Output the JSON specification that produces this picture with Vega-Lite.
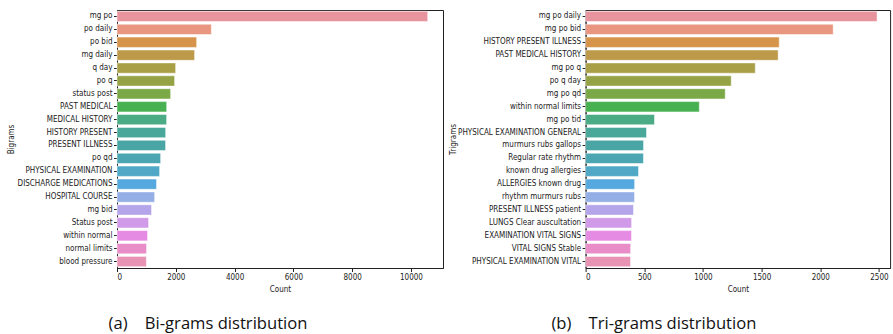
{
  "$schema": "https://vega.github.io/schema/vega-lite/v6.json",
  "background": "white",
  "padding": {"left": 7, "top": 9, "right": 2, "bottom": 2},
  "bounds": "flush",
  "spacing": 142.6,
  "config": {
    "view": {"stroke": "#222", "strokeWidth": 1},
    "axis": {
      "labelFont": "DejaVu Sans Condensed",
      "titleFont": "DejaVu Sans Condensed",
      "labelFontSize": 8,
      "titleFontSize": 8,
      "labelColor": "#222",
      "titleColor": "#222",
      "titleFontWeight": "normal",
      "domainColor": "#222",
      "tickColor": "#222",
      "tickSize": 3.5,
      "labelPadding": 1.5,
      "grid": false
    },
    "title": {"font": "Open Sans", "fontSize": 16.6, "fontWeight": "normal", "color": "#111"}
  },
  "datasets": {
    "bi": [
      {"rank": 1, "gram": "mg po", "count": 10570},
      {"rank": 2, "gram": "po daily", "count": 3210},
      {"rank": 3, "gram": "po bid", "count": 2710},
      {"rank": 4, "gram": "mg daily", "count": 2640},
      {"rank": 5, "gram": "q day", "count": 1995},
      {"rank": 6, "gram": "po q", "count": 1960},
      {"rank": 7, "gram": "status post", "count": 1825},
      {"rank": 8, "gram": "PAST MEDICAL", "count": 1690},
      {"rank": 9, "gram": "MEDICAL HISTORY", "count": 1688},
      {"rank": 10, "gram": "HISTORY PRESENT", "count": 1655},
      {"rank": 11, "gram": "PRESENT ILLNESS", "count": 1653},
      {"rank": 12, "gram": "po qd", "count": 1485},
      {"rank": 13, "gram": "PHYSICAL EXAMINATION", "count": 1450},
      {"rank": 14, "gram": "DISCHARGE MEDICATIONS", "count": 1345},
      {"rank": 15, "gram": "HOSPITAL COURSE", "count": 1280},
      {"rank": 16, "gram": "mg bid", "count": 1175},
      {"rank": 17, "gram": "Status post", "count": 1075},
      {"rank": 18, "gram": "within normal", "count": 1040},
      {"rank": 19, "gram": "normal limits", "count": 1005},
      {"rank": 20, "gram": "blood pressure", "count": 1000}
    ],
    "tri": [
      {"rank": 1, "gram": "mg po daily", "count": 2484},
      {"rank": 2, "gram": "mg po bid", "count": 2110},
      {"rank": 3, "gram": "HISTORY PRESENT ILLNESS", "count": 1650},
      {"rank": 4, "gram": "PAST MEDICAL HISTORY", "count": 1641},
      {"rank": 5, "gram": "mg po q", "count": 1446},
      {"rank": 6, "gram": "po q day", "count": 1241},
      {"rank": 7, "gram": "mg po qd", "count": 1190},
      {"rank": 8, "gram": "within normal limits", "count": 969},
      {"rank": 9, "gram": "mg po tid", "count": 587},
      {"rank": 10, "gram": "PHYSICAL EXAMINATION GENERAL", "count": 519},
      {"rank": 11, "gram": "murmurs rubs gallops", "count": 494},
      {"rank": 12, "gram": "Regular rate rhythm", "count": 493},
      {"rank": 13, "gram": "known drug allergies", "count": 451},
      {"rank": 14, "gram": "ALLERGIES known drug", "count": 418},
      {"rank": 15, "gram": "rhythm murmurs rubs", "count": 417},
      {"rank": 16, "gram": "PRESENT ILLNESS patient", "count": 408},
      {"rank": 17, "gram": "LUNGS Clear auscultation", "count": 392},
      {"rank": 18, "gram": "EXAMINATION VITAL SIGNS", "count": 391},
      {"rank": 19, "gram": "VITAL SIGNS Stable", "count": 384},
      {"rank": 20, "gram": "PHYSICAL EXAMINATION VITAL", "count": 383}
    ]
  },
  "hconcat": [
    {
      "data": {"name": "bi"},
      "width": 326,
      "height": 258,
      "title": {"text": "(a)\u00a0\u00a0\u00a0\u00a0Bi-grams distribution", "orient": "bottom", "anchor": "middle", "frame": "group", "dx": -72, "offset": 23},
      "mark": {"type": "bar", "stroke": "white", "strokeWidth": 0.5},
      "encoding": {
        "y": {"field": "gram", "type": "nominal", "sort": {"field": "rank", "order": "ascending"}, "scale": {"paddingInner": 0.2, "paddingOuter": 0.1}, "axis": {"title": "Bigrams", "titleX": -101.3, "titlePadding": 0}},
        "x": {"field": "count", "type": "quantitative", "scale": {"domain": [0, 11090], "nice": false}, "axis": {"title": "Count", "values": [0, 2000, 4000, 6000, 8000, 10000], "format": "d", "titlePadding": 4}},
        "color": {"field": "rank", "type": "ordinal", "legend": null, "scale": {"domain": [1,2,3,4,5,6,7,8,9,10,11,12,13,14,15,16,17,18,19,20], "range": ["#e8949f", "#e8967f", "#d6934a", "#bd9a4a", "#a89f47", "#95a346", "#7ba947", "#47b050", "#4aab84", "#4aa89a", "#4aa5a5", "#4ca6b2", "#4fa8c6", "#56a9de", "#94aee6", "#b4a4ea", "#d09ae8", "#e68be3", "#e88dc8", "#e893b4"]}}
      }
    },
    {
      "data": {"name": "tri"},
      "width": 304.5,
      "height": 258,
      "title": {"text": "(b)\u00a0\u00a0\u00a0\u00a0Tri-grams distribution", "orient": "bottom", "anchor": "middle", "frame": "group", "dx": -84, "offset": 23},
      "mark": {"type": "bar", "stroke": "white", "strokeWidth": 0.5},
      "encoding": {
        "y": {"field": "gram", "type": "nominal", "sort": {"field": "rank", "order": "ascending"}, "scale": {"paddingInner": 0.2, "paddingOuter": 0.1}, "axis": {"title": "Trigrams", "titleX": -128, "titlePadding": 0}},
        "x": {"field": "count", "type": "quantitative", "scale": {"domain": [0, 2595], "nice": false}, "axis": {"title": "Count", "values": [0, 500, 1000, 1500, 2000, 2500], "format": "d", "titlePadding": 4}},
        "color": {"field": "rank", "type": "ordinal", "legend": null}
      }
    }
  ]
}
